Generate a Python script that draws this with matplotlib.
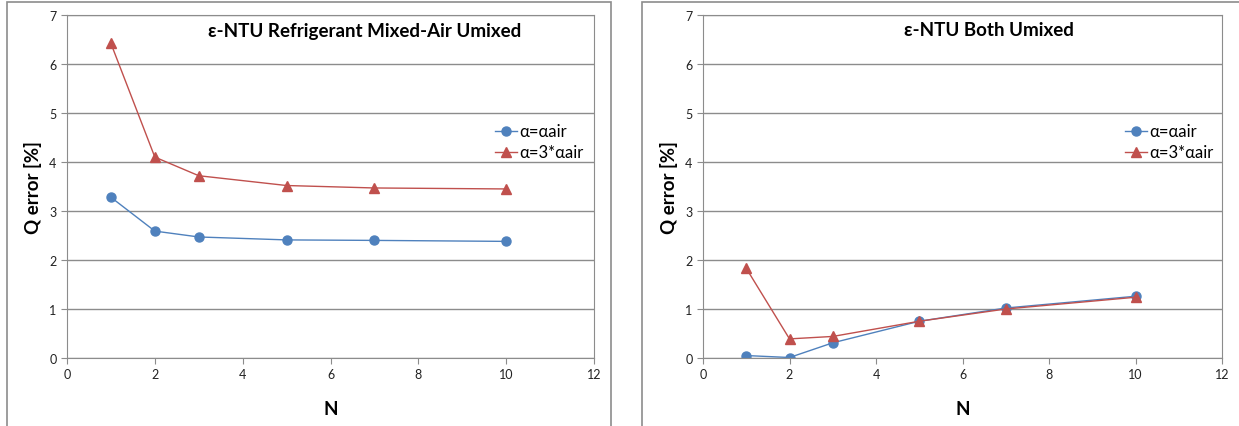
import matplotlib
matplotlib.use("Agg")
import matplotlib.pyplot as plt
from matplotlib.patches import Rectangle

N = [1, 2, 3, 5, 7, 10]
left_air = [3.28, 2.59, 2.47, 2.41, 2.40, 2.38]
left_3air = [6.42, 4.10, 3.72, 3.52, 3.47, 3.45]
right_air = [0.05, 0.01, 0.31, 0.75, 1.02, 1.26]
right_3air = [1.83, 0.39, 0.44, 0.75, 1.00, 1.24]
titles = ["ε-NTU Refrigerant Mixed-Air Umixed", "ε-NTU Both Umixed"]
labels = ["α=αair", "α=3*αair"]
xticks = [0, 2, 4, 6, 8, 10, 12]
yticks = [0, 1, 2, 3, 4, 5, 6, 7]

BLUE = "#4F81BD"
RED = "#C0504D"
GRID = "#8C8C8C"

plt.rcParams['font.family'] = ['Lato', 'DejaVu Sans']

W, H = 1239, 427
fig = plt.figure(figsize=(W / 100, H / 100), dpi=100)

# chart-area borders
for (x0, x1) in [(7, 611), (642, 1250)]:
    fig.patches.append(Rectangle((x0 / W, -0.05), (x1 - x0) / W, 1 - 3 / H + 0.05,
                                 transform=fig.transFigure, fill=False,
                                 edgecolor="#8C8C8C", linewidth=1.2))

axes_pos = [(67, 594), (703, 1222)]
data = [(left_air, left_3air), (right_air, right_3air)]
title_cx = [365, 989]
for i, ((px0, px1), (a, b)) in enumerate(zip(axes_pos, data)):
    ax = fig.add_axes([px0 / W, 1 - 359 / H, (px1 - px0) / W, (359 - 16) / H])
    ax.set_xlim(0, 12)
    ax.set_ylim(0, 7)
    ax.set_xticks(xticks)
    ax.set_yticks(yticks)
    ax.grid(axis='y', color=GRID, linewidth=1.0)
    ax.set_axisbelow(True)
    for s in ax.spines.values():
        s.set_color(GRID)
    ax.tick_params(colors=GRID, labelcolor="#222222", labelsize=9, length=4, direction='out')
    ax.plot(N, a, color=BLUE, marker='o', markersize=6.5, linewidth=1.0, label=labels[0])
    ax.plot(N, b, color=RED, marker='^', markersize=6.5, linewidth=1.0, label=labels[1])
    ax.set_xlabel("N", fontsize=13.5, fontweight='bold', labelpad=14)
    ax.set_ylabel("Q error [%]", fontsize=13.5, fontweight='bold', labelpad=5)
    fig.text(title_cx[i] / W, 1 - 31 / H, titles[i], ha='center', va='center',
             fontsize=13.5, fontweight='bold')
    ax.legend(loc='center left', bbox_to_anchor=(0.80, 0.63), frameon=False,
              fontsize=12, handlelength=1.3, handletextpad=0.15, borderaxespad=0,
              labelspacing=0.3)

fig.savefig("out.png", dpi=100)
